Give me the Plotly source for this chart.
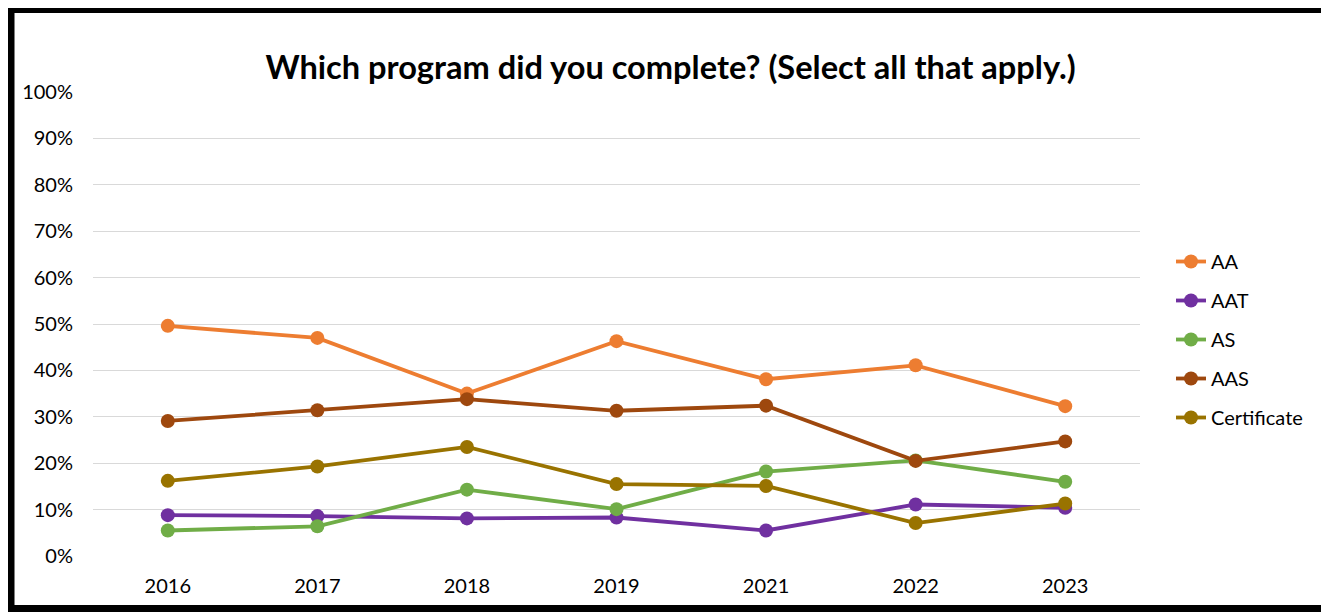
import plotly.graph_objects as go

years = ["2016", "2017", "2018", "2019", "2021", "2022", "2023"]
series_names = ["AA", "AAT", "AS", "AAS", "Certificate"]
aa = [0.496, 0.470, 0.350, 0.463, 0.381, 0.411, 0.323]
aat = [0.088, 0.086, 0.081, 0.083, 0.055, 0.111, 0.104]
as_ = [0.055, 0.064, 0.143, 0.101, 0.182, 0.206, 0.160]
aas = [0.291, 0.314, 0.338, 0.313, 0.324, 0.205, 0.247]
cert = [0.162, 0.193, 0.235, 0.155, 0.151, 0.071, 0.113]
values = [aa, aat, as_, aas, cert]
colors = ["#ED7D31", "#7030A0", "#70AD47", "#9E480E", "#997300"]

# The page body has an 8px margin; work in screen pixels and shift.
OFF = 8
W, H = 1329 - OFF, 612 - OFF
L = 93 - OFF
T = 92 - OFF
R = W - (1140 - OFF)
B = H - (556 - OFF)
FONT = "Lato"

fig = go.Figure()
for name, vals, col in zip(series_names, values, colors):
    fig.add_trace(go.Scatter(
        x=years, y=vals, name=name, mode="lines+markers",
        line=dict(color=col, width=3.8),
        marker=dict(color=col, size=14),
        legendgroup=name,
        hoverinfo="skip",
    ))

pw, ph = W - L - R, H - T - B
def px_x(p):
    return (p - OFF - L) / pw
def px_y(p):
    return (H - B - (p - OFF)) / ph

fig.update_layout(
    width=W, height=H,
    margin=dict(l=L, r=R, t=T, b=B, autoexpand=False),
    paper_bgcolor="white", plot_bgcolor="white",
    font=dict(family=FONT, size=20, color="black"),
    title=dict(
        text="<b>Which program did you complete? (Select all that apply.)</b>",
        x=(670.5 - OFF) / W, xref="container", xanchor="center",
        y=1 - (68 - OFF) / H, yref="container", yanchor="middle",
        font=dict(family=FONT, size=32.6, color="black"),
    ),
    xaxis=dict(
        type="category", range=[-0.5, 6.5],
        showgrid=False, showline=False, zeroline=False,
        ticks="", ticklabelstandoff=16,
        tickfont=dict(family=FONT, size=20, color="black"),
    ),
    yaxis=dict(
        range=[0, 1], dtick=0.1, tickformat=".0%",
        showgrid=True, gridcolor="#D9D9D9", gridwidth=1.3,
        showline=False, zeroline=False, ticks="",
        ticklabelstandoff=19,
        tickfont=dict(family=FONT, size=20, color="black"),
    ),
    legend=dict(
        x=px_x(1171), y=px_y(242), xanchor="left", yanchor="top",
        font=dict(family=FONT, size=20, color="black"),
        tracegroupgap=10, itemwidth=30,
        bgcolor="rgba(0,0,0,0)",
    ),
    showlegend=True,
    shapes=[dict(
        type="rect", xref="paper", yref="paper",
        x0=px_x(10.5), x1=px_x(1325), y0=px_y(609), y1=px_y(9),
        line=dict(color="black", width=8), fillcolor="rgba(0,0,0,0)",
        layer="above",
    )],
)

fig.write_html("out.html")
